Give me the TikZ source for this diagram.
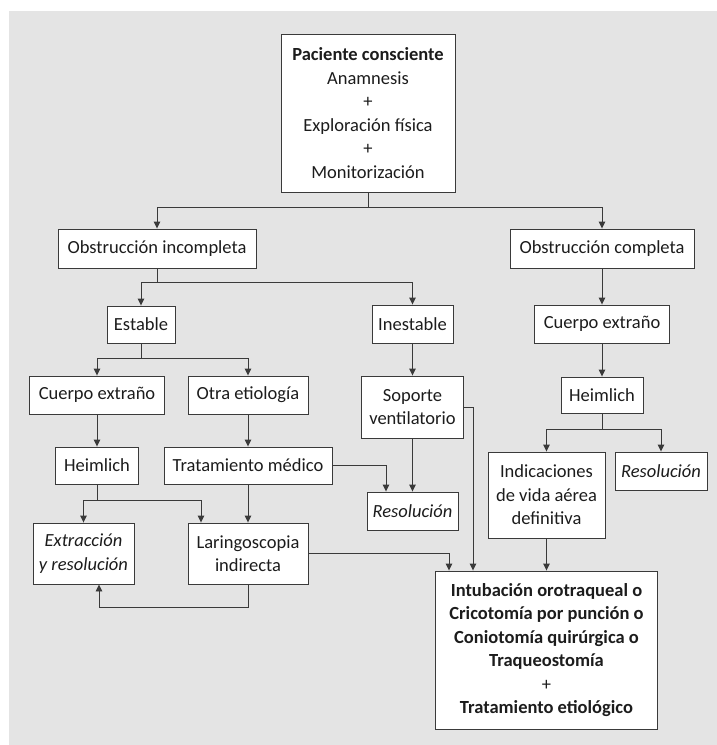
\documentclass[tikz,border=0pt]{standalone}
\usepackage{fontspec}
\setmainfont{Carlito}
\usepackage{tikz}
\usetikzlibrary{arrows.meta}
\definecolor{algback}{HTML}{E4E4E4}
\definecolor{algline}{HTML}{3A3A3A}
\definecolor{algtext}{HTML}{1C1C1C}

\begin{document}
\begin{tikzpicture}[x=1pt, y=-1pt]
  \tikzstyle{box}=[draw=algline, line width=0.9pt, fill=white, inner sep=0pt, align=center, text=algtext, font=\fontsize{18.5}{23.5}\selectfont]
  \tikzstyle{arrow}=[-{Triangle[length=7pt, width=6.5pt]}, line width=0.9pt, color=algline]
  \tikzstyle{link}=[line width=0.9pt, color=algline]

  \useasboundingbox (0,0) rectangle (717,745);
  \fill[algback] (9,11) rectangle (717,745);

  % first level
  \node[box, minimum width=174pt, minimum height=158pt] (paciente) at (368,113) {\textbf{Paciente consciente}\\Anamnesis\\+\\Exploración física\\+\\Monitorización};
  \node[box, minimum width=198pt, minimum height=39pt] (obsinc) at (157,248.5) {Obstrucción incompleta};
  \node[box, minimum width=184pt, minimum height=39pt] (obscomp) at (602,248.5) {Obstrucción completa};

  % incomplete branch
  \node[box, minimum width=68pt, minimum height=37pt] (estable) at (141,324.5) {Estable};
  \node[box, minimum width=81pt, minimum height=38pt] (inestable) at (412.5,324) {Inestable};
  \node[box, minimum width=135pt, minimum height=38pt] (cuerpoinc) at (97,395) {Cuerpo extraño};
  \node[box, minimum width=120pt, minimum height=38pt] (otra) at (248,395) {Otra etiología};
  \node[box, minimum width=102pt, minimum height=62pt] (soporte) at (412.5,407) {Soporte\\ventilatorio};
  \node[box, minimum width=83pt, minimum height=37pt] (heiminc) at (97,465.5) {Heimlich};
  \node[box, minimum width=168pt, minimum height=37pt] (tratamiento) at (248,465.5) {Tratamiento médico};
  \node[box, minimum width=91pt, minimum height=38pt] (resolinc) at (412.5,511) {\textit{Resolución}};
  \node[box, minimum width=101pt, minimum height=61pt] (extraccion) at (83.5,553.5) {\textit{Extracción}\\\textit{y resolución}};
  \node[box, minimum width=120pt, minimum height=61pt] (laringo) at (248,553.5) {Laringoscopia\\indirecta};

  % complete branch
  \node[box, minimum width=135pt, minimum height=38pt] (cuerpocomp) at (602,324) {Cuerpo extraño};
  \node[box, minimum width=82pt, minimum height=36pt] (heimcomp) at (602,395) {Heimlich};
  \node[box, minimum width=117pt, minimum height=86pt] (indicaciones) at (546.5,495) {Indicaciones\\de vida aérea\\definitiva};
  \node[box, minimum width=92pt, minimum height=38pt] (resolcomp) at (661,471) {\textit{Resolución}};
  \node[box, minimum width=222pt, minimum height=158pt] (intubacion) at (546.5,650) {\textbf{Intubación orotraqueal o}\\\textbf{Cricotomía por punción o}\\\textbf{Coniotomía quirúrgica o}\\\textbf{Traqueostomía}\\+\\\textbf{Tratamiento etiológico}};

  % split points
  \coordinate (s0) at (368,207);
  \coordinate (s1) at (157,282);
  \coordinate (s2) at (141,358);
  \coordinate (s3) at (602,429);
  \coordinate (s4) at (97,500);
  \coordinate (s5) at (248,607);

  \draw[link] (paciente) -- (s0);
  \draw[arrow] (s0) -| (obsinc);
  \draw[arrow] (s0) -| (obscomp);
  \draw[link] (obsinc) -- (s1);
  \draw[arrow] (s1) -| (estable);
  \draw[arrow] (s1) -| (inestable);
  \draw[arrow] (obscomp) -- (cuerpocomp);
  \draw[link] (estable) -- (s2);
  \draw[arrow] (s2) -| (cuerpoinc);
  \draw[arrow] (s2) -| (otra);
  \draw[arrow] (inestable) -- (soporte);
  \draw[arrow] (cuerpocomp) -- (heimcomp);
  \draw[arrow] (cuerpoinc) -- (heiminc);
  \draw[arrow] (otra) -- (tratamiento);
  \draw[link] (heimcomp) -- (s3);
  \draw[arrow] (s3) -| (indicaciones);
  \draw[arrow] (s3) -| (resolcomp);
  \draw[arrow] (soporte) -- (resolinc);
  \draw[arrow] (soporte.east) -| ([xshift=-73.5pt]intubacion.north);
  \draw[arrow] (tratamiento.east) -| ([xshift=-26.5pt]resolinc.north);
  \draw[link] (heiminc) -- (s4);
  \draw[arrow] (s4) -| (extraccion);
  \draw[arrow] (s4) -| ([xshift=-47pt]laringo.north);
  \draw[arrow] (tratamiento) -- (laringo);
  \draw[arrow] (laringo.east) -| ([xshift=-97.5pt]intubacion.north);
  \draw[arrow] (laringo) -- (s5) -| ([xshift=15.5pt]extraccion.south);
  \draw[arrow] (indicaciones) -- (intubacion);
\end{tikzpicture}
\end{document}
